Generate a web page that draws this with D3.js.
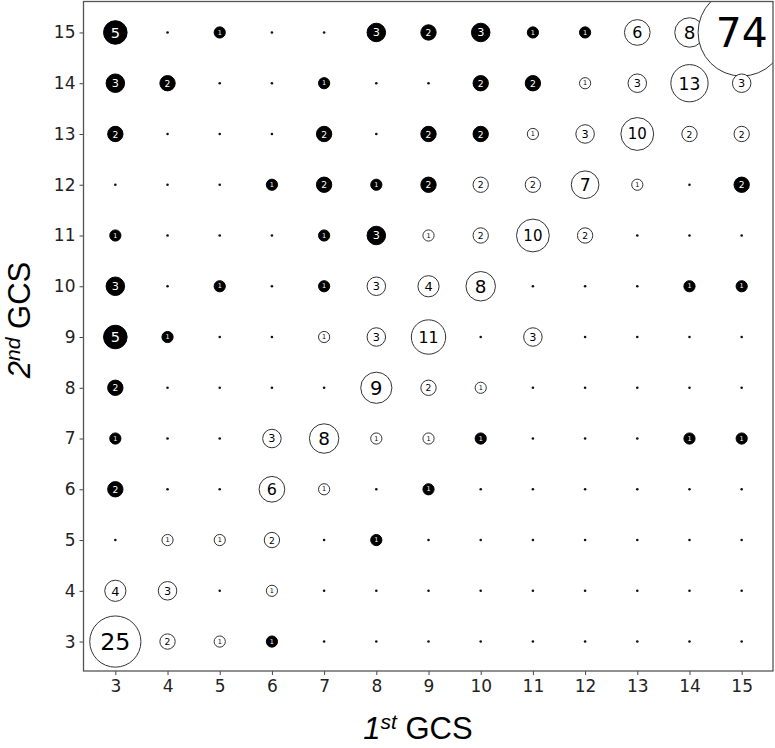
<!DOCTYPE html>
<meta charset="utf-8">
<style>
  body { margin: 0; background: #fff; }
  .tick text { font-family: "DejaVu Sans", sans-serif; font-size: 17px; fill: #222; }
  .label { font-family: "Liberation Sans", Arial, sans-serif; font-size: 31px; fill: #000; }
  .cells text { font-family: "DejaVu Sans", sans-serif; }
</style>
<script src="https://d3js.org/d3.v7.min.js"></script>
<body>
<script>

const width = 775;
const height = 748;

// score values on both axes
const gcs1 = [3, 4, 5, 6, 7, 8, 9, 10, 11, 12, 13, 14, 15];
const gcs2 = [15, 14, 13, 12, 11, 10, 9, 8, 7, 6, 5, 4, 3];

// patient counts, one row per 2nd GCS (15 at top), columns 1st GCS 3..15
const counts = [
  [5, 0, 1, 0, 0, 3, 2, 3, 1, 1, 6, 8, 74],
  [3, 2, 0, 0, 1, 0, 0, 2, 2, 1, 3, 13, 3],
  [2, 0, 0, 0, 2, 0, 2, 2, 1, 3, 10, 2, 2],
  [0, 0, 0, 1, 2, 1, 2, 2, 2, 7, 1, 0, 2],
  [1, 0, 0, 0, 1, 3, 1, 2, 10, 2, 0, 0, 0],
  [3, 0, 1, 0, 1, 3, 4, 8, 0, 0, 0, 1, 1],
  [5, 1, 0, 0, 1, 3, 11, 0, 3, 0, 0, 0, 0],
  [2, 0, 0, 0, 0, 9, 2, 1, 0, 0, 0, 0, 0],
  [1, 0, 0, 3, 8, 1, 1, 1, 0, 0, 0, 1, 1],
  [2, 0, 0, 6, 1, 0, 1, 0, 0, 0, 0, 0, 0],
  [0, 1, 1, 2, 0, 1, 0, 0, 0, 0, 0, 0, 0],
  [4, 3, 0, 1, 0, 0, 0, 0, 0, 0, 0, 0, 0],
  [25, 2, 1, 1, 0, 0, 0, 0, 0, 0, 0, 0, 0]
];

// 1 = drawn as a filled black disc, 0 = open circle
const filled = [
  [1, 0, 1, 0, 0, 1, 1, 1, 1, 1, 0, 0, 0],
  [1, 1, 0, 0, 1, 0, 0, 1, 1, 0, 0, 0, 0],
  [1, 0, 0, 0, 1, 0, 1, 1, 0, 0, 0, 0, 0],
  [0, 0, 0, 1, 1, 1, 1, 0, 0, 0, 0, 0, 1],
  [1, 0, 0, 0, 1, 1, 0, 0, 0, 0, 0, 0, 0],
  [1, 0, 1, 0, 1, 0, 0, 0, 0, 0, 0, 1, 1],
  [1, 1, 0, 0, 0, 0, 0, 0, 0, 0, 0, 0, 0],
  [1, 0, 0, 0, 0, 0, 0, 0, 0, 0, 0, 0, 0],
  [1, 0, 0, 0, 0, 0, 0, 1, 0, 0, 0, 1, 1],
  [1, 0, 0, 0, 0, 0, 1, 0, 0, 0, 0, 0, 0],
  [0, 0, 0, 0, 0, 1, 0, 0, 0, 0, 0, 0, 0],
  [0, 0, 0, 0, 0, 0, 0, 0, 0, 0, 0, 0, 0],
  [0, 0, 0, 1, 0, 0, 0, 0, 0, 0, 0, 0, 0]
];

const margin = {left: 83.5, right: 2, top: 1.5, bottom: 77};

const x = d3.scaleLinear()
            .domain([2.39, 15.6])
            .range([margin.left, width - margin.right]);

const y = d3.scaleLinear()
            .domain([2.42, 15.61])
            .range([height - margin.bottom, margin.top]);

const r = d3.scaleSqrt()
            .domain([0, 74])
            .range([0, 43]);
const radius = n => r(n) + 0.6;

const cells = [];
gcs2.forEach((g2, i) => {
  gcs1.forEach((g1, j) => {
    cells.push({g1: g1, g2: g2, n: counts[i][j], black: filled[i][j] === 1});
  });
});

const svg = d3.select("body")
              .append("svg")
              .attr("width", width)
              .attr("height", height)
              .style("display", "block");

svg.append("clipPath")
   .attr("id", "plot-clip")
   .append("rect")
   .attr("x", margin.left)
   .attr("y", margin.top)
   .attr("width", width - margin.right - margin.left)
   .attr("height", height - margin.bottom - margin.top);

const plot = svg.append("g")
                .attr("class", "cells")
                .attr("clip-path", "url(#plot-clip)");

// zero cells are just a small dot
plot.selectAll("circle.zero")
    .data(cells.filter(d => d.n === 0))
    .enter().append("circle")
    .attr("class", "zero")
    .attr("cx", d => x(d.g1))
    .attr("cy", d => y(d.g2))
    .attr("r", 1.3)
    .attr("fill", "#111");

const marks = plot.selectAll("g.cell")
                  .data(cells.filter(d => d.n > 0))
                  .enter().append("g")
                  .attr("class", "cell")
                  .attr("transform", d => `translate(${x(d.g1)},${y(d.g2)})`);

marks.append("circle")
     .attr("r", d => radius(d.n))
     .attr("fill", d => d.black ? "#000" : "#fff")
     .attr("stroke", d => d.black ? "#000" : "#333")
     .attr("stroke-width", 1);

function fontSize(d) {
  const rad = r(d.n);
  return String(d.n).length === 1 ? rad * 1.3 : rad * 0.95;
}

marks.append("text")
     .attr("text-anchor", "middle")
     .attr("dominant-baseline", "central")
     .attr("dy", d => fontSize(d) * 0.02)
     .attr("font-size", d => fontSize(d))
     .attr("fill", d => d.black ? "#fff" : "#000")
     .text(d => d.n);

// axes
const xAxis = svg.append("g")
                 .attr("transform", `translate(0,${height - margin.bottom})`)
                 .call(d3.axisBottom(x).tickValues(gcs1).tickSize(4).tickPadding(5));

const yAxis = svg.append("g")
                 .attr("transform", `translate(${margin.left},0)`)
                 .call(d3.axisLeft(y).tickValues(gcs2).tickSize(4).tickPadding(4));

[xAxis, yAxis].forEach(a => {
  a.select(".domain").remove();
  a.selectAll(".tick line").attr("stroke", "#444");
});

// frame
svg.append("rect")
   .attr("x", margin.left)
   .attr("y", margin.top)
   .attr("width", width - margin.right - margin.left)
   .attr("height", height - margin.bottom - margin.top)
   .attr("fill", "none")
   .attr("stroke", "#555")
   .attr("stroke-width", 1.3);

// axis labels
const xl = svg.append("text")
              .attr("class", "label")
              .attr("x", 418)
              .attr("y", 739)
              .attr("text-anchor", "middle");
xl.append("tspan").attr("font-style", "italic").text("1");
xl.append("tspan").attr("font-style", "italic").attr("font-size", "21px").attr("dy", -10).text("st");
xl.append("tspan").attr("dy", 10).text(" GCS");

const yl = svg.append("text")
              .attr("class", "label")
              .attr("transform", "translate(30,320) rotate(-90)")
              .attr("text-anchor", "middle");
yl.append("tspan").attr("font-style", "italic").text("2");
yl.append("tspan").attr("font-style", "italic").attr("font-size", "21px").attr("dy", -10).text("nd");
yl.append("tspan").attr("dy", 10).text(" GCS");

</script>
</body>
